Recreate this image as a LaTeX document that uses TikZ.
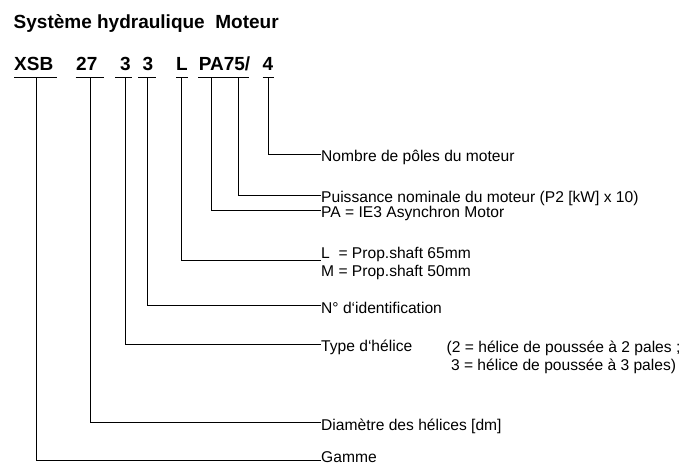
\documentclass[tikz,border=0pt]{standalone}
\usepackage{fontspec}
\setmainfont{Liberation Sans}

\begin{document}
\begin{tikzpicture}[x=1bp,y=-1bp,
    head/.style={font=\fontsize{19bp}{22bp}\selectfont\bfseries,inner sep=0pt,anchor=base west},
    lbl/.style={font=\fontsize{15.6bp}{17.8bp}\selectfont,inner sep=0pt,anchor=west,text height=15bp,text depth=0pt},
    note/.style={font=\fontsize{15.6bp}{17.8bp}\selectfont,inner sep=0pt,anchor=base west},
    lbltwo/.style={font=\fontsize{15.6bp}{17.8bp}\selectfont,inner sep=0pt,align=left,anchor=north west},
    lead/.style={line width=0.75bp},
    bar/.style={line width=1.5bp}]
      \useasboundingbox[fill=white] (0,0) rectangle (689,466);
      \node[head] (title) at (13.5,29) {Système hydraulique\ \ Moteur};
      \node[head] (cXSB) at (14,71) {XSB};
      \node[head] (c27) at (76,71) {27};
      \node[head] (c3a) at (120,71) {3};
      \node[head] (c3b) at (142.4,71) {3};
      \node[head] (cL) at (175.9,71) {L};
      \node[head] (cPA) at (198.6,71) {PA75/};
      \node[head] (c4) at (262.5,71) {4};
      \foreach \a/\b in {14/57.3,75.5/104,115/132,138/156,176/188,198.3/249,262.7/274}
        \draw[bar] (\a,77.7) -- (\b,77.7);
      \coordinate (uXSB) at (36.7,78);
      \coordinate (u27) at (90.7,78);
      \coordinate (u3a) at (125.3,78);
      \coordinate (u3b) at (147.7,78);
      \coordinate (uL) at (181.7,78);
      \coordinate (uPA) at (211,78);
      \coordinate (u75) at (238.3,78);
      \coordinate (u4) at (268.3,78);
      \node[lbl] (lPoles) at (321,154) {Nombre de pôles du moteur};
      \node[lbl] (lPuiss) at (321,195) {Puissance nominale du moteur (P2 [kW] x 10)};
      \node[lbl] (lPA) at (321,210) {PA = IE3 Asynchron Motor};
      \node[lbltwo] (lShaft) at (321,246.9) {L\ \ = Prop.shaft 65mm\\M = Prop.shaft 50mm};
      \node[lbl] (lIdent) at (321,305.7) {N° d‘identification};
      \node[lbl] (lType) at (321,344.3) {Type d‘hélice};
      \node[note] (lTypeA) at (446.5,352.7) {(2 = hélice de poussée à 2 pales ;};
      \node[note] (lTypeB) at (446.5,370.5) {\ 3 = hélice de poussée à 3 pales)};
      \node[lbl] (lDiam) at (321,422.7) {Diamètre des hélices [dm]};
      \node[lbl] (lGamme) at (321,455) {Gamme};
      \foreach \u/\l in {u4/lPoles,u75/lPuiss,uPA/lPA,u3b/lIdent,u3a/lType,u27/lDiam}
        \draw[lead] (\u) |- (\l);
      \draw[lead] (uL) |- ([yshift=2.4bp]lShaft.west);
      \draw[lead] (uXSB) |- ([yshift=-5bp]lGamme.west);
\end{tikzpicture}
\end{document}
